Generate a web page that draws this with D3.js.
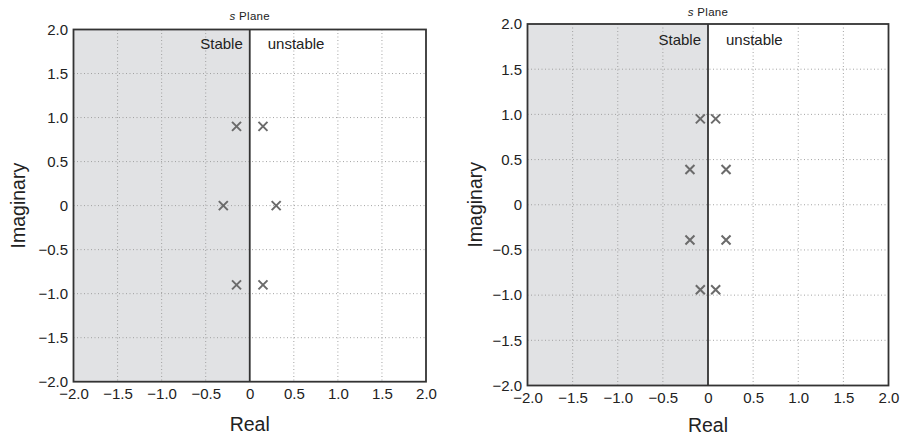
<!DOCTYPE html>
<html>
<head>
<meta charset="utf-8">
<script src="https://cdn.jsdelivr.net/npm/d3@7/dist/d3.min.js"></script>
<style>
  html, body { margin: 0; padding: 0; background: #fff; }
  svg { display: block; font-family: "Liberation Sans", Arial, Helvetica, sans-serif; }
</style>
</head>
<body>
<svg id="chart" width="903" height="435"></svg>
<script>
// Axis ticks shared by both s-plane panels
const tickValues = [-2, -1.5, -1, -0.5, 0, 0.5, 1, 1.5, 2];
const domain = [-2, 2];

// Pole locations [real, imaginary]
const polesA = [[-0.15, 0.9], [0.15, 0.9], [-0.3, 0], [0.3, 0], [-0.15, -0.9], [0.15, -0.9]];
const polesB = [[-0.085, 0.95], [0.085, 0.95], [-0.2, 0.39], [0.2, 0.39],
                [-0.2, -0.39], [0.2, -0.39], [-0.085, -0.94], [0.085, -0.94]];

const titleText = "Plane";
const stableText = "Stable";
const unstableText = "unstable";
const xTitle = "Real";
const yTitle = "Imaginary";

// Panel frames in page pixels
const panels = [
  { poles: polesA, left: 73.5, right: 426, top: 29.5, bottom: 381.7, titleY: 19.5, labelY: 49, yLabX: 25, xLabY: 430.5 },
  { poles: polesB, left: 527.5, right: 888.5, top: 24, bottom: 385.5, titleY: 15.5, labelY: 45, yLabX: 482, xLabY: 432 }
];

const fmt = d => d === 0 ? "0" : d3.format(".1f")(d);
const svg = d3.select("#chart");

panels.forEach(p => {
  const x = d3.scaleLinear().domain(domain).range([p.left, p.right]);
  const y = d3.scaleLinear().domain(domain).range([p.bottom, p.top]);
  const g = svg.append("g");

  // stable half-plane shading
  g.append("rect")
    .attr("x", x(-2)).attr("y", y(2))
    .attr("width", x(0) - x(-2)).attr("height", y(-2) - y(2))
    .attr("fill", "#e1e2e4");

  // dotted grid
  const gridX = tickValues.filter(t => t > -2 && t < 2 && t !== 0);
  g.selectAll(".gx").data(gridX).join("line")
    .attr("x1", d => x(d)).attr("x2", d => x(d))
    .attr("y1", y(2)).attr("y2", y(-2))
    .attr("stroke", "#9a9a9a").attr("stroke-width", 0.9)
    .attr("stroke-dasharray", "1,2.5");
  g.selectAll(".gy").data(tickValues.filter(t => t > -2 && t < 2)).join("line")
    .attr("x1", x(-2)).attr("x2", x(2))
    .attr("y1", d => y(d)).attr("y2", d => y(d))
    .attr("stroke", "#9a9a9a").attr("stroke-width", 0.9)
    .attr("stroke-dasharray", "1,2.5");

  // axes (tick labels only, frame drawn separately)
  const xAxis = d3.axisBottom(x).tickValues(tickValues).tickFormat(fmt).tickSize(0).tickPadding(7);
  const yAxis = d3.axisLeft(y).tickValues(tickValues).tickFormat(fmt).tickSize(0).tickPadding(5.5);
  const gx = g.append("g").attr("transform", `translate(0,${p.bottom})`).call(xAxis);
  const gy = g.append("g").attr("transform", `translate(${p.left},0)`).call(yAxis);
  [gx, gy].forEach(a => {
    a.select(".domain").remove();
    a.selectAll("text").attr("font-size", 15).attr("fill", "#222")
      .attr("font-family", "'Liberation Sans', Arial, sans-serif");
  });

  // imaginary axis divider
  g.append("line")
    .attr("x1", x(0)).attr("x2", x(0)).attr("y1", y(2)).attr("y2", y(-2))
    .attr("stroke", "#333").attr("stroke-width", 1.8);

  // frame
  g.append("rect")
    .attr("x", x(-2)).attr("y", y(2))
    .attr("width", x(2) - x(-2)).attr("height", y(-2) - y(2))
    .attr("fill", "none").attr("stroke", "#333").attr("stroke-width", 1.8);

  // region labels
  g.append("text").attr("x", x(0) - 7).attr("y", p.labelY)
    .attr("text-anchor", "end").attr("font-size", 15).attr("fill", "#222").text(stableText);
  g.append("text").attr("x", x(0) + 18).attr("y", p.labelY)
    .attr("text-anchor", "start").attr("font-size", 15).attr("fill", "#222").text(unstableText);

  // title
  const t = g.append("text").attr("x", x(0)).attr("y", p.titleY)
    .attr("text-anchor", "middle").attr("font-size", 11.5).attr("letter-spacing", 0.3).attr("fill", "#222");
  t.append("tspan").attr("font-style", "italic").text("s");
  t.append("tspan").text(" " + titleText);

  // axis titles
  g.append("text").attr("x", x(0)).attr("y", p.xLabY)
    .attr("text-anchor", "middle").attr("font-size", 19.5).attr("fill", "#222").text(xTitle);
  g.append("text")
    .attr("transform", `translate(${p.yLabX},${y(0)}) rotate(-90)`)
    .attr("text-anchor", "middle").attr("font-size", 19.5).attr("fill", "#222").text(yTitle);

  // pole markers
  const s = 4.5;
  g.selectAll(".pole").data(p.poles).join("path")
    .attr("d", d => {
      const cx = x(d[0]), cy = y(d[1]);
      return `M${cx - s},${cy - s}L${cx + s},${cy + s}M${cx - s},${cy + s}L${cx + s},${cy - s}`;
    })
    .attr("stroke", "#6b6b6b").attr("stroke-width", 2).attr("fill", "none");
});
</script>
</body>
</html>
